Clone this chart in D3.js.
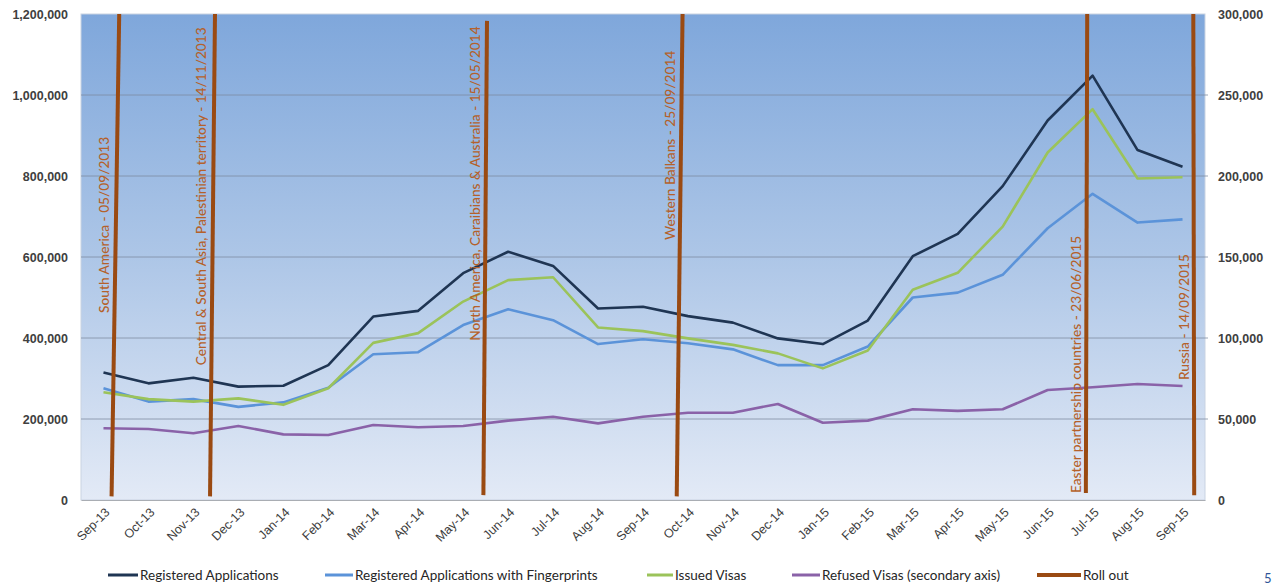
<!DOCTYPE html>
<html>
<head>
<meta charset="utf-8">
<script src="https://cdn.jsdelivr.net/npm/d3@7/dist/d3.min.js"></script>
<style>
  html, body { margin: 0; padding: 0; background: #ffffff; }
  svg { display: block; font-family: Lato, "Open Sans", sans-serif; }
</style>
</head>
<body>
<svg id="chart" width="1275" height="585"></svg>
<script>
// Monthly categories
const months = ["Sep-13","Oct-13","Nov-13","Dec-13","Jan-14","Feb-14","Mar-14","Apr-14","May-14",
  "Jun-14","Jul-14","Aug-14","Sep-14","Oct-14","Nov-14","Dec-14","Jan-15","Feb-15","Mar-15",
  "Apr-15","May-15","Jun-15","Jul-15","Aug-15","Sep-15"];

// Primary axis series
const registeredApplications = [315000, 288000, 302000, 280000, 282000, 333000, 453000, 467000, 560000,
  613000, 578000, 473000, 477000, 454000, 438000, 399000, 385000, 443000, 602000,
  657000, 775000, 937000, 1048000, 864000, 823000];
const registeredWithFingerprints = [276000, 243000, 249000, 230000, 241000, 277000, 360000, 365000, 432000,
  471000, 444000, 385000, 397000, 387000, 372000, 333000, 333000, 379000, 500000,
  512000, 556000, 671000, 756000, 685000, 693000];
const issuedVisas = [266000, 249000, 243000, 251000, 235000, 276000, 388000, 412000, 490000,
  543000, 550000, 426000, 417000, 399000, 383000, 362000, 325000, 369000, 519000,
  561000, 675000, 858000, 965000, 794000, 797000];

// Secondary axis series
const refusedVisas = [44300, 43800, 41200, 45700, 40500, 40100, 46300, 44900, 45700,
  49000, 51400, 47300, 51400, 53900, 53900, 59300, 47700, 49000, 56000,
  55000, 56000, 67900, 69600, 71600, 70400];

// Axis ticks
const leftTicks = [0, 200000, 400000, 600000, 800000, 1000000, 1200000];
const rightTicks = [0, 50000, 100000, 150000, 200000, 250000, 300000];

// Roll-out milestones (month index where each line meets the top and the bottom)
const rolloutLabels = [
  "South America - 05/09/2013",
  "Central & South Asia, Palestinian territory - 14/11/2013",
  "North America, Caraibians & Australia - 15/05/2014",
  "Western Balkans - 25/09/2014",
  "Easter partnership countries - 23/06/2015",
  "Russia - 14/09/2015"
];
const rolloutIndexTop = [0.35, 2.48, 8.53, 12.88, 21.88, 24.24];
const rolloutIndexBottom = [0.18, 2.37, 8.45, 12.75, 21.85, 24.26];
const rolloutValueTop = [1200000, 1200000, 1183000, 1200000, 1200000, 1200000];
const rolloutValueBottom = [9000, 9000, 12000, 9000, 17000, 12000];
// Value on the primary axis where each milestone caption begins
const rolloutLabelStart = [462000, 333000, 393000, 642000, 17000, 296000];

const seriesNames = ["Registered Applications", "Registered Applications with Fingerprints",
  "Issued Visas", "Refused Visas (secondary axis)", "Roll out"];
const seriesColors = ["#1f3553", "#5b93d9", "#9bc35a", "#8a62a8", "#9a4a12"];

const svg = d3.select("#chart");
const plot = { left: 81, right: 1205, top: 14, bottom: 500 };

const x = d3.scaleBand().domain(months).range([plot.left, plot.right]).padding(0);
const cx = m => x(m) + x.bandwidth() / 2;
const xi = d3.scaleLinear().domain([0, months.length - 1])
  .range([cx(months[0]), cx(months[months.length - 1])]);
const yL = d3.scaleLinear().domain([0, 1200000]).range([plot.bottom, plot.top]);
const yR = d3.scaleLinear().domain([0, 300000]).range([plot.bottom, plot.top]);

// Plot-area gradient
const defs = svg.append("defs");
const grad = defs.append("linearGradient").attr("id", "bg")
  .attr("x1", 0).attr("y1", 0).attr("x2", 0).attr("y2", 1);
grad.append("stop").attr("offset", "0%").attr("stop-color", "#7fa7db");
grad.append("stop").attr("offset", "50%").attr("stop-color", "#adc6e7");
grad.append("stop").attr("offset", "100%").attr("stop-color", "#e3eaf6");

svg.append("rect")
  .attr("x", plot.left).attr("y", plot.top)
  .attr("width", plot.right - plot.left).attr("height", plot.bottom - plot.top)
  .attr("fill", "url(#bg)")
  .attr("stroke", "#c9d3e2").attr("stroke-width", 1);

// Horizontal gridlines
svg.append("g").selectAll("line").data(leftTicks.filter(d => d > 0 && d < 1200000)).join("line")
  .attr("x1", plot.left).attr("x2", plot.right + 3)
  .attr("y1", d => yL(d)).attr("y2", d => yL(d))
  .attr("stroke", "#7c8a9e").attr("stroke-opacity", 0.75).attr("stroke-width", 1);

// Left axis
const leftAxis = d3.axisLeft(yL).tickValues(leftTicks).tickSize(0).tickPadding(13)
  .tickFormat(d3.format(","));
const gL = svg.append("g").attr("transform", `translate(${plot.left},0)`).call(leftAxis);
gL.select(".domain").remove();
gL.selectAll("text").attr("fill", "#404040").style("font-size", "12.5px").style("font-weight", "700");

// Right axis
const rightAxis = d3.axisRight(yR).tickValues(rightTicks).tickSize(0).tickPadding(13)
  .tickFormat(d3.format(","));
const gR = svg.append("g").attr("transform", `translate(${plot.right},0)`).call(rightAxis);
gR.select(".domain").remove();
gR.selectAll("text").attr("fill", "#404040").style("font-size", "12.5px").style("font-weight", "700");

// Bottom axis
const bottomAxis = d3.axisBottom(x).tickSize(0).tickPadding(0);
const gB = svg.append("g").attr("transform", `translate(0,${plot.bottom})`).call(bottomAxis);
gB.select(".domain").attr("stroke", "#a9adb3").attr("stroke-width", 1.2);
gB.selectAll("text")
  .attr("fill", "#3c3c3c").style("font-size", "12.5px")
  .attr("text-anchor", "end")
  .attr("dy", 0)
  .attr("transform", "translate(7,13) rotate(-45)");

// Series lines
const line = yScale => d3.line().x((d, i) => cx(months[i])).y(d => yScale(d));
const seriesData = [
  { values: registeredApplications, scale: yL, color: seriesColors[0] },
  { values: registeredWithFingerprints, scale: yL, color: seriesColors[1] },
  { values: issuedVisas, scale: yL, color: seriesColors[2] },
  { values: refusedVisas, scale: yR, color: seriesColors[3] }
];
// draw order: purple, blue, green, navy on top
[3, 1, 2, 0].forEach(k => {
  const s = seriesData[k];
  svg.append("path").datum(s.values)
    .attr("d", line(s.scale))
    .attr("fill", "none").attr("stroke", s.color)
    .attr("stroke-width", 2.6).attr("stroke-linejoin", "round");
});

// Roll-out markers
const rollouts = rolloutLabels.map((label, i) => ({
  label,
  x1: xi(rolloutIndexTop[i]), y1: yL(rolloutValueTop[i]),
  x2: xi(rolloutIndexBottom[i]), y2: yL(rolloutValueBottom[i]),
  ys: yL(rolloutLabelStart[i])
}));
svg.append("g").selectAll("line").data(rollouts).join("line")
  .attr("x1", d => d.x1).attr("y1", d => d.y1)
  .attr("x2", d => d.x2).attr("y2", d => d.y2)
  .attr("stroke", seriesColors[4]).attr("stroke-width", 4);

svg.append("g").selectAll("text").data(rollouts).join("text")
  .attr("transform", d => {
    const t = (d.ys - d.y1) / (d.y2 - d.y1);
    const lx = d.x1 + t * (d.x2 - d.x1) - 5;
    return `translate(${lx},${d.ys}) rotate(-90)`;
  })
  .attr("text-anchor", "start")
  .attr("fill", "#b5612a")
  .style("font-size", "13.7px")
  .style("font-weight", "500")
  .text(d => d.label);

// Legend
const legendX = [108, 325, 647, 792, 1037];
const legendLen = [30, 28, 26, 28, 44];
const legend = svg.append("g");
seriesNames.forEach((name, i) => {
  legend.append("line")
    .attr("x1", legendX[i]).attr("x2", legendX[i] + legendLen[i])
    .attr("y1", 575).attr("y2", 575)
    .attr("stroke", seriesColors[i]).attr("stroke-width", i === 4 ? 4 : 3);
  legend.append("text")
    .attr("x", legendX[i] + legendLen[i] + 2).attr("y", 575).attr("dy", "0.35em")
    .attr("fill", "#262626").style("font-size", "13.5px")
    .text(name);
});

// Page number in the corner
svg.append("text").attr("x", 1264).attr("y", 583)
  .attr("fill", "#2f5597").style("font-size", "13px").text("5");
</script>
</body>
</html>
